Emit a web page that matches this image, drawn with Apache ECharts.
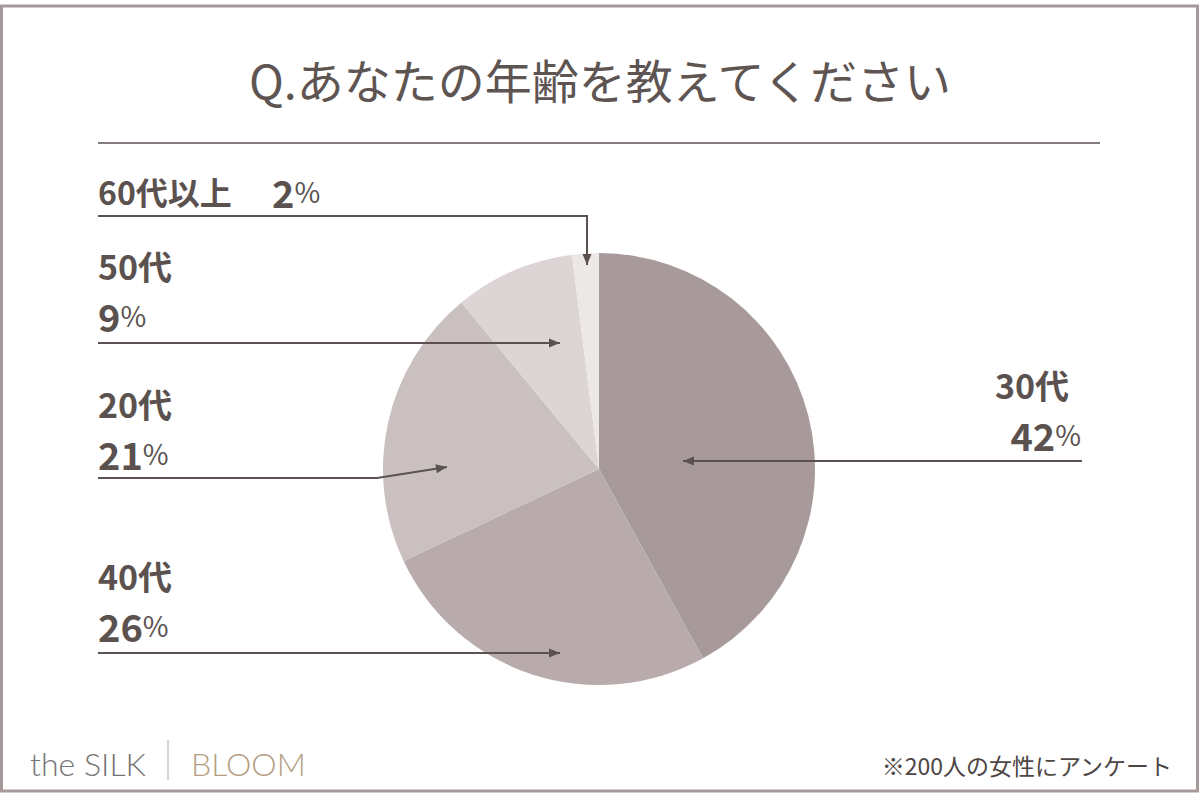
<!DOCTYPE html>
<html>
<head>
<meta charset="utf-8">
<script src="https://cdn.jsdelivr.net/npm/echarts@6/dist/echarts.min.js"></script>
<style>html,body{margin:0;padding:0;background:#fff;}#c{width:1200px;height:800px;}</style>
</head>
<body>
<div id="c"></div>
<script>
// ---- data ----
const categories = ['30代', '40代', '20代', '50代', '60代以上'];
const values = [42, 26, 21, 9, 2];
const sliceColors = ['#a89a9a', '#b9abab', '#cac0c0', '#ddd5d5', '#ede8e8'];
const titleText = 'Q.あなたの年齢を教えてください';
const noteText = '※200人の女性にアンケート';

// ---- annotation layout (positions only) ----
const annoLayout = {
  '60代以上': { inline: true, x: 98, nameY: 191, pctX: 272, path: [[98, 216], [587, 216], [587, 265]] },
  '50代': { x: 98, nameY: 265, pctY: 315, path: [[98, 343], [560, 343]] },
  '20代': { x: 98, nameY: 403, pctY: 453, path: [[98, 478], [377, 478], [447, 467]] },
  '40代': { x: 98, nameY: 575, pctY: 625, path: [[98, 653], [560, 653]] },
  '30代': { right: true, x: 1081, namePad: 12, nameY: 384, pctY: 434, path: [[1082, 461], [683, 461]] }
};

const INK = '#5b5250';
const CJK = '"Noto Sans CJK JP", "Noto Sans", sans-serif';

const chart = echarts.init(document.getElementById('c'), null, { renderer: 'svg', width: 1200, height: 800 });

function makeRich(lh, namePad) {
  return {
    nm: { fontSize: 34, lineHeight: lh, fontWeight: 'bold', fontFamily: CJK, fill: INK, color: INK, padding: [0, namePad || 0, 0, 0] },
    nm2: { fontSize: 32, lineHeight: lh, fontWeight: 'bold', fontFamily: CJK, fill: INK, color: INK },
    n: { fontSize: 38, lineHeight: lh, fontWeight: 'bold', fontFamily: CJK, fill: INK, color: INK },
    p: { fontSize: 28, lineHeight: lh, fontWeight: 'normal', fontFamily: CJK, fill: INK, color: INK }
  };
}

const graphics = [];
// frame
graphics.push({ type: 'rect', z: 1, shape: { x: 1.5, y: 6, width: 1196, height: 785 }, style: { fill: 'none', stroke: '#a79999', lineWidth: 3 }, silent: true });
// title
graphics.push({ type: 'text', z: 10, x: 600, y: 78, style: { text: titleText, fontSize: 47, fontFamily: CJK, fontWeight: 'normal', fill: '#5e5553', align: 'center', verticalAlign: 'middle' }, silent: true });
graphics.push({ type: 'line', z: 10, shape: { x1: 98, y1: 143, x2: 1100, y2: 143 }, style: { stroke: INK, lineWidth: 1.5 }, silent: true });

// annotations
categories.forEach((cat, i) => {
  const L = annoLayout[cat];
  const v = values[i];
  if (L.inline) {
    graphics.push({ type: 'text', z: 10, x: L.x, y: L.nameY, style: { text: '{nm2|' + cat + '}', rich: makeRich(40), align: 'left', verticalAlign: 'middle' }, silent: true });
    graphics.push({ type: 'text', z: 10, x: L.pctX, y: L.nameY, style: { text: '{n|' + v + '}{p|%}', rich: makeRich(40), align: 'left', verticalAlign: 'middle' }, silent: true });
  } else {
    const lh = L.pctY - L.nameY;
    const al = L.right ? 'right' : 'left';
    graphics.push({ type: 'text', z: 10, x: L.x, y: (L.nameY + L.pctY) / 2, style: { text: '{nm|' + cat + '}\n{n|' + v + '}{p|%}', rich: makeRich(lh, L.namePad), align: al, verticalAlign: 'middle' }, silent: true });
  }
  const pts = L.path;
  graphics.push({ type: 'polyline', z: 20, shape: { points: pts }, style: { stroke: INK, lineWidth: 2, fill: 'none' }, silent: true });
  // arrow head
  const a = pts[pts.length - 2], b = pts[pts.length - 1];
  const dx = b[0] - a[0], dy = b[1] - a[1];
  const len = Math.sqrt(dx * dx + dy * dy);
  const ux = dx / len, uy = dy / len;
  const hl = 11, hw = 4.5;
  const bx = b[0] - ux * hl, by = b[1] - uy * hl;
  graphics.push({ type: 'polygon', z: 20, shape: { points: [[b[0], b[1]], [bx - uy * hw, by + ux * hw], [bx + uy * hw, by - ux * hw]] }, style: { fill: INK }, silent: true });
});

// footer
graphics.push({ type: 'text', z: 10, x: 30, y: 763, style: { text: 'the SILK', fontSize: 32, fontFamily: 'Lato, "Open Sans", sans-serif', fontWeight: 300, fill: '#747474', align: 'left', verticalAlign: 'middle' }, silent: true });
graphics.push({ type: 'line', z: 10, shape: { x1: 168, y1: 740, x2: 168, y2: 780 }, style: { stroke: '#a8a8a8', lineWidth: 1 }, silent: true });
graphics.push({ type: 'text', z: 10, x: 191, y: 763, style: { text: 'BLOOM', fontSize: 32, fontFamily: 'Lato, "Open Sans", sans-serif', fontWeight: 300, fill: '#b49e82', align: 'left', verticalAlign: 'middle' }, silent: true });
graphics.push({ type: 'text', z: 10, x: 1172, y: 765, style: { text: noteText, fontSize: 23, fontFamily: CJK, fill: '#4d4645', align: 'right', verticalAlign: 'middle' }, silent: true });

chart.setOption({
  animation: false,
  backgroundColor: '#ffffff',
  series: [{
    type: 'pie',
    z: 2,
    center: [599, 469],
    radius: 216,
    startAngle: 90,
    clockwise: true,
    silent: true,
    label: { show: false },
    labelLine: { show: false },
    itemStyle: { borderWidth: 0 },
    emphasis: { disabled: true },
    data: categories.map((c, i) => ({ name: c, value: values[i], itemStyle: { color: sliceColors[i] } }))
  }],
  graphic: { elements: graphics }
});
</script>
</body>
</html>
